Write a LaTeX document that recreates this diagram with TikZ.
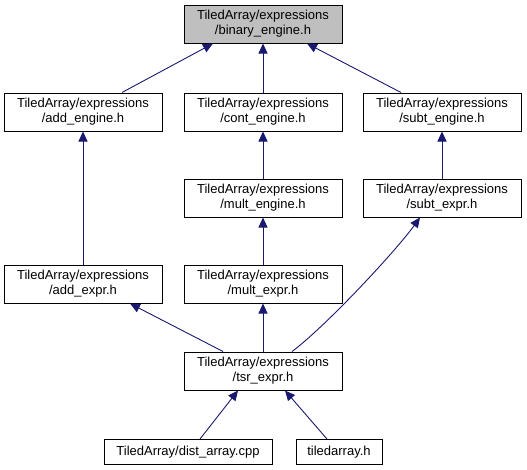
\documentclass[tikz,border=0pt]{standalone}
\usepackage{fontspec}
\setmainfont{Liberation Sans}
\usetikzlibrary{arrows.meta}
\definecolor{edgeblue}{RGB}{25,25,112}
\begin{document}
\begin{tikzpicture}[x=1pt, y=-1pt, line width=1pt,
  font=\fontsize{13}{15}\selectfont,
  file/.style={draw=black, fill=white, align=center, inner sep=0pt,
    minimum width=158pt, minimum height=38pt},
  leaf/.style={file, minimum height=25pt},
  cur/.style={file, fill=black!25},
  dep/.style={draw=edgeblue, line width=0.9pt, -{Triangle[length=10pt, width=9pt]}}]
  \useasboundingbox (0,0) rectangle (527,469);
  % columns x = 83, 263, 442
  \coordinate (p0) at (263,24);
  \coordinate (p1) at (83,112); \coordinate (p2) at (263,112); \coordinate (p3) at (442,112);
  \coordinate (p4) at (263,198); \coordinate (p5) at (442,198);
  \coordinate (p6) at (83,284); \coordinate (p7) at (263,284);
  \coordinate (p8) at (263,371);
  \coordinate (p9) at (188,452); \coordinate (p10) at (339,452);
  \node[cur] (bin) at (p0) {TiledArray/expressions\\/binary\_engine.h};
  \node[file] (ae) at (p1) {TiledArray/expressions\\/add\_engine.h};
  \node[file] (ce) at (p2) {TiledArray/expressions\\/cont\_engine.h};
  \node[file] (se) at (p3) {TiledArray/expressions\\/subt\_engine.h};
  \node[file] (me) at (p4) {TiledArray/expressions\\/mult\_engine.h};
  \node[file] (sx) at (p5) {TiledArray/expressions\\/subt\_expr.h};
  \node[file] (ax) at (p6) {TiledArray/expressions\\/add\_expr.h};
  \node[file] (mx) at (p7) {TiledArray/expressions\\/mult\_expr.h};
  \node[file] (tx) at (p8) {TiledArray/expressions\\/tsr\_expr.h};
  \node[leaf, minimum width=168pt] (da) at (p9) {TiledArray/dist\_array.cpp};
  \node[leaf, minimum width=86pt] (th) at (p10) {tiledarray.h};
  % edges point at the included file
  \draw[dep] ([xshift=39pt]ae.north) -- ([xshift=-50pt]bin.south);
  \draw[dep] (ce.north) -- (bin.south);
  \draw[dep] ([xshift=-41pt]se.north) -- ([xshift=44pt]bin.south);
  \draw[dep] (ax.north) -- (ae.south);
  \draw[dep] (me.north) -- (ce.south);
  \draw[dep] (sx.north) -- (se.south);
  \draw[dep] (mx.north) -- (me.south);
  \draw[dep] ([xshift=-40pt]tx.north) -- ([xshift=47pt]ax.south);
  \draw[dep] (tx.north) -- (mx.south);
  \draw[dep] ([xshift=29pt]tx.north) .. controls (325,327) and (395,252) .. ([xshift=-22pt]sx.south);
  \draw[dep] ([xshift=12pt]da.north) -- ([xshift=-25pt]tx.south);
  \draw[dep] ([xshift=-12pt]th.north) -- ([xshift=22pt]tx.south);
\end{tikzpicture}
\end{document}
